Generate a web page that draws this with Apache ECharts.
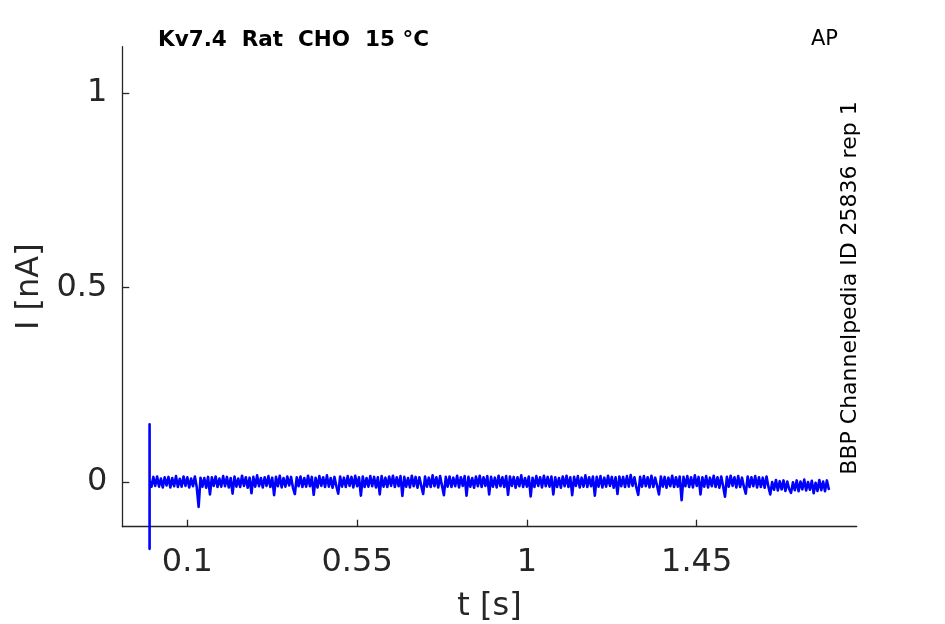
<!DOCTYPE html>
<html>
<head>
<meta charset="utf-8">
<script src="https://cdn.jsdelivr.net/npm/echarts@6/dist/echarts.min.js"></script>
<style>
html,body{margin:0;padding:0;background:#fff;}
#chart{width:945px;height:624px;}
</style>
</head>
<body>
<div id="chart"></div>
<script>
// ---- data ----
const titleText = 'Kv7.4  Rat  CHO  15 \u00B0C';
const protocolText = 'AP';
const sideText = 'BBP Channelpedia ID 25836 rep 1';
const xTicks = [0.1, 0.55, 1, 1.45];
const yTicks = [0, 0.5, 1];
const xRange = [-0.0723, 1.874];
const yRange = [-0.115, 1.119];
// stimulus artefact at t = 0 (nA)
const artefactTop = 0.148;
const artefactBottom = -0.172;
// sampling of the trace
const t0 = 0;
const dt = 0.005;
// current trace in pA (0.001 nA), one value per sample
const currentPA = [
  4,-12,13,-10,14,-12,9,-14,12,-9,13,-14,10,-11,15,-13,8,-12,14,-10,
  12,-14,9,-11,14,-13,-64,11,-12,10,-15,13,-32,12,-10,14,-13,9,-12,15,
  -11,13,-14,10,-30,14,-12,9,-13,16,-10,12,-15,11,-29,13,-12,17,-11,10,
  -14,12,-10,15,-13,11,-34,13,-11,16,-14,10,-12,14,-9,13,-15,-31,12,-11,
  14,-13,10,-12,16,-11,13,-33,11,-14,15,-10,12,-13,17,-12,10,-15,13,-11,
  -30,14,-12,11,-13,15,-10,13,-14,16,-11,12,-35,14,-13,10,-12,15,-11,13,
  -14,12,-32,15,-12,11,-13,14,-10,16,-13,12,-11,15,-36,13,-12,10,-14,16,
  -11,13,-15,12,-10,-31,14,-12,11,-13,17,-11,12,-14,15,-10,-34,13,-12,14,
  -13,11,-11,16,-14,12,-10,15,-35,13,-12,10,-15,14,-11,16,-13,12,-10,15,
  -32,13,-12,11,-14,16,-11,12,-13,15,-33,14,-10,13,-15,12,-11,17,-13,10,
  -12,14,-37,11,-13,15,-10,12,-14,16,-11,13,-12,14,-32,12,-13,10,-15,14,
  -11,16,-13,12,-34,13,-10,15,-14,11,-12,17,-13,12,-11,14,-35,13,-12,15,
  -14,11,-12,16,-10,13,-15,12,-31,14,-11,13,-13,15,-12,18,-10,12,-14,-33,
  13,-12,15,-11,12,-14,16,-13,11,-10,-32,14,-12,13,-15,11,-11,16,-13,12,
  -12,14,-47,13,-11,15,-13,12,-14,17,-10,13,-32,12,-12,15,-14,11,-11,16,
  -13,12,-15,14,-11,-38,13,-12,16,-10,12,-14,15,-13,11,-12,-30,14,-13,12,
  -11,15,-14,12,-13,11,-15,14,-12,-32,0,-20,5,-22,2,-19,4,-23,1,-18,
  -28,-1,-21,4,-24,1,-19,6,-22,0,-20,3,-29,-2,-23,5,-21,1,-24,4,
  -18
];

// ---- build series data ----
const traceData = [[t0, artefactTop], [t0, artefactBottom]];
currentPA.forEach((v, i) => traceData.push([t0 + i * dt, v / 1000]));

const axisColor = '#262626';
const tickFont = 'DejaVu Sans';

const chart = echarts.init(document.getElementById('chart'), null, {renderer: 'canvas'});
chart.setOption({
  animation: false,
  backgroundColor: '#ffffff',
  grid: {left: 122.3, right: 88.3, top: 46.7, bottom: 97.3, outerBoundsMode: 'none'},
  xAxis: {
    type: 'value',
    min: xRange[0], max: xRange[1],
    name: 't [s]',
    nameLocation: 'middle',
    nameGap: 64,
    nameTextStyle: {fontFamily: tickFont, fontSize: 32, color: axisColor},
    axisLine: {show: true, onZero: false, lineStyle: {color: axisColor, width: 1.3}},
    axisTick: {show: true, inside: true, length: 7, customValues: xTicks, lineStyle: {color: axisColor, width: 1.3}},
    axisLabel: {customValues: xTicks, fontFamily: tickFont, fontSize: 32, color: axisColor, margin: 20,
      formatter: v => String(v)},
    splitLine: {show: false}
  },
  yAxis: {
    type: 'value',
    min: yRange[0], max: yRange[1],
    name: 'I [nA]',
    nameLocation: 'middle',
    nameGap: 76,
    nameTextStyle: {fontFamily: tickFont, fontSize: 32, color: axisColor},
    axisLine: {show: true, onZero: false, lineStyle: {color: axisColor, width: 1.3}},
    axisTick: {show: true, inside: true, length: 7, customValues: yTicks, lineStyle: {color: axisColor, width: 1.3}},
    axisLabel: {customValues: yTicks, fontFamily: tickFont, fontSize: 32, color: axisColor, margin: 15,
      formatter: v => String(v)},
    splitLine: {show: false}
  },
  series: [{
    type: 'line',
    data: traceData,
    showSymbol: false,
    symbol: 'none',
    clip: false,
    sampling: null,
    lineStyle: {color: '#0000ff', width: 2.6, join: 'round', cap: 'round'},
    emphasis: {disabled: true}
  }],
  graphic: [
    {type: 'text', left: 158, top: 29,
      style: {text: titleText, font: 'bold 21.5px "DejaVu Sans"', fill: '#000'}},
    {type: 'text', left: 811, top: 29,
      style: {text: protocolText, font: '21px "DejaVu Sans"', fill: '#000'}},
    {type: 'text', x: 850, y: 288, rotation: Math.PI / 2,
      style: {text: sideText, font: '22px "DejaVu Sans"', fill: '#000', align: 'center', verticalAlign: 'middle'}}
  ]
});
</script>
</body>
</html>
